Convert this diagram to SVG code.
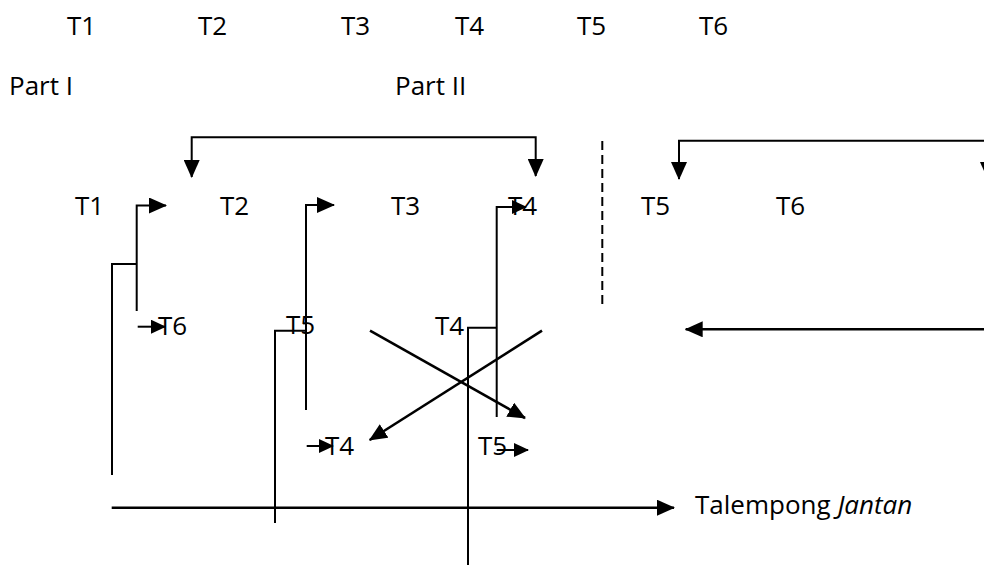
<svg xmlns="http://www.w3.org/2000/svg" width="984" height="566" viewBox="0 0 984 566">
  <style>
    .lbl { font-family: "Open Sans", "Noto Sans", "Liberation Sans", sans-serif; font-size: 26px; fill: #000; }
    .ln { fill: none; stroke: #000; stroke-width: 2; }
    .thick { fill: none; stroke: #000; stroke-width: 2.6; }
    .big { marker-end: url(#head); }
    .small { marker-end: url(#headSmall); }
  </style>
  <defs>
    <marker id="head" viewBox="0 0 18 16" refX="17" refY="8" markerWidth="18" markerHeight="16" markerUnits="userSpaceOnUse" orient="auto-start-reverse">
      <path d="M0,0 L18,8 L0,16 z" fill="#000"/>
    </marker>
    <marker id="headSmall" viewBox="0 0 15 14" refX="14" refY="7" markerWidth="15" markerHeight="14" markerUnits="userSpaceOnUse" orient="auto">
      <path d="M0,0 L15,7 L0,14 z" fill="#000"/>
    </marker>
  </defs>
  <rect width="984" height="566" fill="#fff"/>

  <!-- header: beat sequence and section titles -->
  <g id="header-t1"><text class="lbl" x="67" y="35">T1</text></g>
  <g id="header-t2"><text class="lbl" x="198" y="35">T2</text></g>
  <g id="header-t3"><text class="lbl" x="341" y="35">T3</text></g>
  <g id="header-t4"><text class="lbl" x="455" y="35">T4</text></g>
  <g id="header-t5"><text class="lbl" x="577" y="35">T5</text></g>
  <g id="header-t6"><text class="lbl" x="699" y="35">T6</text></g>
  <g id="part-1"><text class="lbl" x="9" y="95">Part I</text></g>
  <g id="part-2"><text class="lbl" x="395" y="95">Part II</text></g>

  <!-- main row -->
  <g id="row-t1"><text class="lbl" x="75" y="215">T1</text></g>
  <g id="row-t2"><text class="lbl" x="220" y="215">T2</text></g>
  <g id="row-t3"><text class="lbl" x="391" y="215">T3</text></g>
  <g id="row-t4"><text class="lbl" x="508" y="215">T4</text></g>
  <g id="row-t5"><text class="lbl" x="641" y="215">T5</text></g>
  <g id="row-t6"><text class="lbl" x="776" y="215">T6</text></g>

  <!-- interlocking notes -->
  <g id="sub-t6"><text class="lbl" x="158" y="335">T6</text></g>
  <g id="sub-t5a"><text class="lbl" x="286" y="334">T5</text></g>
  <g id="sub-t4a"><text class="lbl" x="435" y="335">T4</text></g>
  <g id="sub-t4b"><text class="lbl" x="325" y="455">T4</text></g>
  <g id="sub-t5b"><text class="lbl" x="478" y="455">T5</text></g>

  <g id="jantan"><text class="lbl" x="695" y="514">Talempong <tspan font-style="italic">Jantan</tspan></text></g>

  <g id="connectors">
    <!-- repeat brackets -->
    <path class="ln big" d="M191.7,177 V137.3 H535.7 V176" style="marker-start:url(#head)"/>
    <path class="ln big" d="M679,179 V140.7 H988 V179" style="marker-start:url(#head)"/>
    <!-- section divider -->
    <path class="ln" d="M602.3,141 V309" stroke-dasharray="9,5"/>

    <!-- T1 -> T2 with branch -->
    <path class="ln big" d="M136.7,311 V205.5 H166"/>
    <path class="ln" d="M112,475 V264 H136.7"/>
    <path class="ln small" d="M137.7,326.7 H165"/>

    <!-- T2 -> T3 with branch -->
    <path class="ln big" d="M306,410 V205 H334"/>
    <path class="ln" d="M275,523 V330.7 H306"/>
    <path class="ln small" d="M306.7,446 H333"/>

    <!-- T3 -> T4 with branch -->
    <path class="ln small" d="M496.7,417 V207 H526"/>
    <path class="ln" d="M468,565 V327.7 H497"/>
    <path class="ln small" d="M496.7,450 H528"/>

    <!-- crossing -->
    <path class="thick big" d="M370,330.7 L525,418"/>
    <path class="thick big" d="M542,330.7 L369.7,440"/>

    <!-- long arrows -->
    <path class="thick big" d="M111.7,507.7 H674"/>
    <path class="thick big" d="M984,329.3 H685.7"/>
  </g>
</svg>
